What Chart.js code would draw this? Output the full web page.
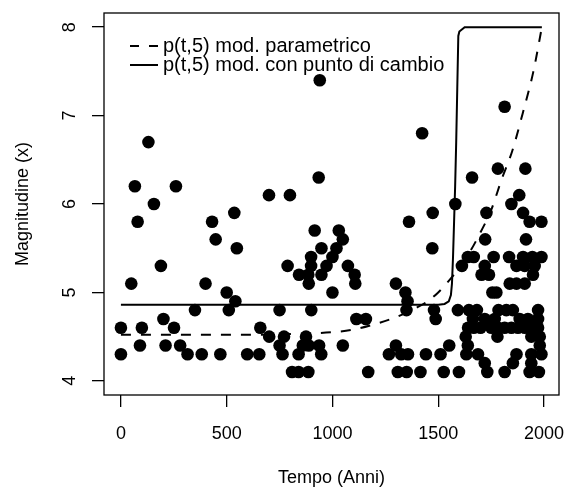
<!DOCTYPE html>
<html>
<head>
<meta charset="utf-8">
<script src="https://cdn.jsdelivr.net/npm/chart.js@4"></script>
<style>
  html, body { margin: 0; padding: 0; background: #fff; }
</style>
</head>
<body>
<canvas id="chart" width="568" height="491"></canvas>
<script>
// earthquake catalogue (year, magnitude)
const quakeYears = [
  0, 0, 49, 66, 79, 90, 99, 130, 156, 189, 201, 211, 251, 260, 280, 315, 350, 382, 400, 431,
  448, 470, 500, 510, 536, 541, 548, 597, 654, 659, 700, 701, 750, 750, 764, 771, 788, 799, 809, 840,
  840, 842, 860, 875, 886, 888, 886, 888, 899, 899, 900, 916, 935, 940, 937, 948, 948, 947, 972, 1000,
  1000, 1019, 1030, 1049, 1049, 1073, 1105, 1108, 1113, 1158, 1169, 1267, 1300, 1300, 1309, 1325, 1345, 1355, 1350, 1357,
  1351, 1362, 1424, 1416, 1442, 1474, 1472, 1480, 1488, 1511, 1526, 1552, 1581, 1593, 1598, 1612, 1630, 1633, 1640, 1641,
  1640, 1645, 1660, 1664, 1668, 1668, 1683, 1688, 1700, 1705, 1720, 1720, 1720, 1722, 1728, 1732, 1740, 1751, 1756, 1762,
  1767, 1775, 1780, 1782, 1783, 1785, 1814, 1814, 1814, 1822, 1835, 1838, 1846, 1846, 1853, 1853, 1870, 1870, 1870, 1877,
  1883, 1885, 1901, 1901, 1909, 1909, 1909, 1912, 1915, 1924, 1932, 1932, 1940, 1940, 1940, 1940, 1945, 1948, 1956, 1972,
  1972, 1972, 1976, 1980, 1980, 1988, 1988, 1988
]
const quakeMags = [
  4.6, 4.3, 5.1, 6.2, 5.8, 4.4, 4.6, 6.7, 6.0, 5.3, 4.7, 4.4, 4.6, 6.2, 4.4, 4.3, 4.8, 4.3, 5.1, 5.8,
  5.6, 4.3, 5.0, 4.8, 5.9, 4.9, 5.5, 4.3, 4.3, 4.6, 6.1, 4.5, 4.8, 4.4, 4.3, 4.5, 5.3, 6.1, 4.1, 4.1,
  4.3, 5.2, 4.4, 4.5, 5.2, 5.1, 4.1, 4.4, 5.4, 5.3, 4.8, 5.7, 6.3, 7.4, 4.4, 5.5, 5.2, 4.3, 5.3, 5.4,
  5.0, 5.5, 5.7, 5.6, 4.4, 5.3, 5.2, 5.1, 4.7, 4.7, 4.1, 4.3, 5.1, 4.4, 4.1, 4.3, 5.0, 4.9, 4.8, 4.3,
  4.1, 5.8, 6.8, 4.1, 4.3, 5.9, 5.5, 4.8, 4.7, 4.3, 4.1, 4.4, 6.0, 4.8, 4.1, 5.3, 4.5, 4.3, 5.4, 4.6,
  4.4, 4.8, 6.3, 4.7, 5.4, 4.6, 4.8, 4.3, 4.6, 5.2, 5.3, 4.7, 4.2, 5.6, 5.9, 4.1, 5.2, 4.6, 5.0, 5.4,
  4.7, 5.0, 4.5, 6.4, 4.6, 4.8, 7.1, 4.6, 4.1, 4.8, 5.4, 5.1, 6.0, 4.6, 4.8, 4.2, 5.3, 5.1, 4.3, 4.6,
  6.1, 4.7, 5.9, 5.4, 5.3, 5.1, 4.6, 6.4, 5.6, 4.7, 5.8, 4.1, 4.6, 4.5, 4.3, 4.2, 5.4, 5.2, 5.3, 4.8,
  4.7, 4.6, 4.1, 4.5, 4.4, 5.8, 5.4, 4.3
]

// p(t,5) parametric model (dashed)
const paramYears = [0, 200, 400, 600, 800, 1000, 1100, 1200, 1300, 1400, 1450, 1500, 1550, 1600, 1650, 1700, 1750, 1800, 1850, 1900, 1950, 1990]
const paramMags  = [4.52, 4.52, 4.52, 4.52, 4.53, 4.55, 4.58, 4.64, 4.72, 4.83, 4.9, 5.0, 5.13, 5.28, 5.46, 5.68, 5.93, 6.28, 6.6, 7.03, 7.5, 8.0]

// p(t,5) change point model (solid)
const changeYears = [0, 1000, 1500, 1530, 1550, 1560, 1565, 1570, 1575, 1580, 1585, 1590, 1595, 1600, 1625, 1990]
const changeMags  = [4.86, 4.86, 4.86, 4.87, 4.9, 4.97, 5.1, 5.4, 5.8, 6.2, 6.7, 7.3, 7.9, 7.95, 8.0, 8.0]

const xTicks = [0, 500, 1000, 1500, 2000]
const yTicks = [4, 5, 6, 7, 8]
const legendLabels = ['p(t,5) mod. parametrico', 'p(t,5) mod. con punto di cambio']

const FONT = 'Liberation Sans, Arial, Helvetica, sans-serif'

function toXY(xs, ys) {
  return xs.map((x, i) => ({ x: x, y: ys[i] }))
}

// no extra room for the edge labels, the box is fixed like in R
function noPad(s) {
  s.paddingTop = 0
  s.paddingBottom = 0
  s.paddingLeft = 0
  s.paddingRight = 0
}

// R style box + legend
const rBox = {
  id: 'rBox',
  afterDraw(chart) {
    const { ctx, chartArea: a } = chart
    ctx.save()
    ctx.strokeStyle = '#000'
    ctx.lineWidth = 1.3
    ctx.strokeRect(a.left, a.top, a.right - a.left, a.bottom - a.top)

    ctx.lineWidth = 2
    ctx.font = '20px ' + FONT
    ctx.fillStyle = '#000'
    ctx.textBaseline = 'middle'
    const rows = [46, 65]
    rows.forEach((y, i) => {
      ctx.setLineDash(i === 0 ? [9, 10] : [])
      ctx.beginPath()
      ctx.moveTo(130, y)
      ctx.lineTo(158, y)
      ctx.stroke()
      ctx.fillText(legendLabels[i], 163, y)
    })
    ctx.restore()
  }
}

new Chart(document.getElementById('chart'), {
  type: 'scatter',
  data: {
    datasets: [
      {
        label: legendLabels[0],
        type: 'line',
        data: toXY(paramYears, paramMags),
        borderColor: '#000',
        borderWidth: 2,
        borderDash: [10, 10],
        pointRadius: 0,
        cubicInterpolationMode: 'monotone',
        fill: false,
        order: 1
      },
      {
        label: legendLabels[1],
        type: 'line',
        data: toXY(changeYears, changeMags),
        borderColor: '#000',
        borderWidth: 2,
        pointRadius: 0,
        tension: 0,
        fill: false,
        order: 2
      },
      {
        label: 'dati',
        data: toXY(quakeYears, quakeMags),
        pointRadius: 6.3,
        pointBackgroundColor: '#000',
        pointBorderWidth: 0,
        showLine: false,
        order: 3
      }
    ]
  },
  options: {
    responsive: false,
    devicePixelRatio: 1,
    animation: false,
    layout: { padding: { top: 13, right: 9, left: 0, bottom: 0 } },
    plugins: { legend: { display: false }, tooltip: { enabled: false } },
    scales: {
      x: {
        type: 'linear',
        min: -80,
        max: 2071,
        afterBuildTicks: s => { s.ticks = xTicks.map(v => ({ value: v })) },
        afterFit: s => { s.height = 96; noPad(s) },
        grid: { drawOnChartArea: false, drawTicks: true, tickLength: 12, color: '#000', lineWidth: 1.3 },
        border: { display: false },
        ticks: { color: '#000', font: { family: FONT, size: 18 }, padding: 16, maxRotation: 0, callback: v => String(v) },
        title: { display: true, text: 'Tempo (Anni)', color: '#000', font: { family: FONT, size: 18 }, padding: { top: 0, bottom: 2 } }
      },
      y: {
        type: 'linear',
        min: 3.84,
        max: 8.16,
        afterBuildTicks: s => { s.ticks = yTicks.map(v => ({ value: v })) },
        afterFit: s => { s.width = 104; noPad(s) },
        grid: { drawOnChartArea: false, drawTicks: true, tickLength: 12, color: '#000', lineWidth: 1.3 },
        border: { display: false },
        ticks: { color: '#000', font: { family: FONT, size: 18 }, padding: 17, minRotation: 90, maxRotation: 90, crossAlign: 'center', callback: v => String(v) },
        title: { display: true, text: 'Magnitudine (x)', color: '#000', font: { family: FONT, size: 18 }, padding: { top: 12, bottom: 0 } }
      }
    }
  },
  plugins: [rBox]
})
</script>
</body>
</html>
